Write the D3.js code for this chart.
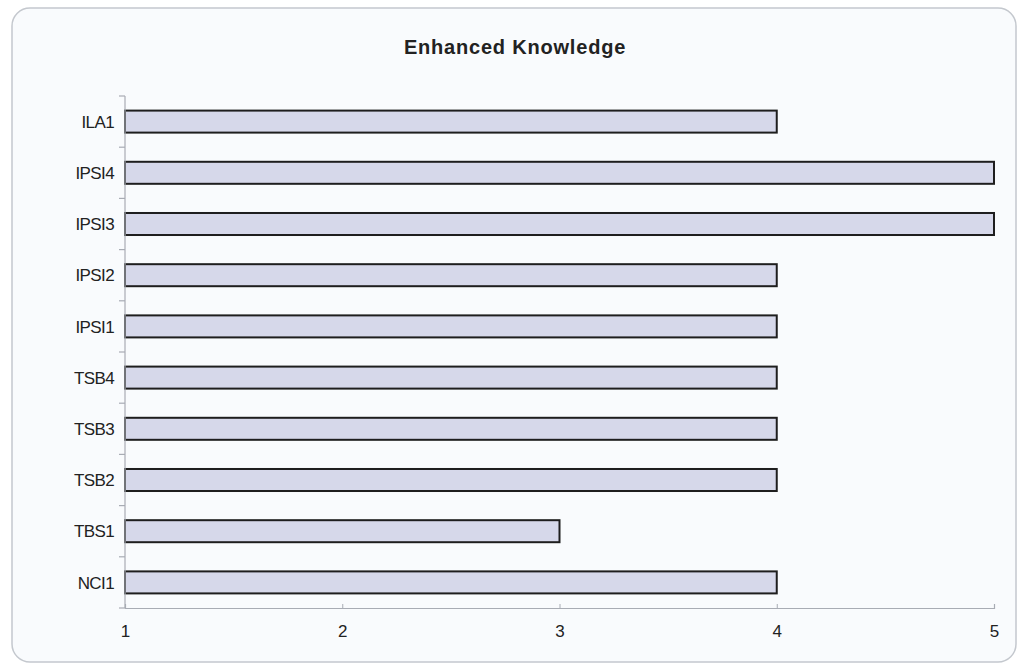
<!DOCTYPE html>
<html>
<head>
<meta charset="utf-8">
<script src="https://cdn.jsdelivr.net/npm/d3@7"></script>
<style>
  html, body { margin: 0; padding: 0; background: #ffffff; }
  svg { display: block; }
</style>
</head>
<body>
<svg id="chart" width="1024" height="672"></svg>
<script>
// Categories listed top to bottom, with their scores
const categories = ["ILA1", "IPSI4", "IPSI3", "IPSI2", "IPSI1", "TSB4", "TSB3", "TSB2", "TBS1", "NCI1"];
const scores = [4, 5, 5, 4, 4, 4, 4, 4, 3, 4];
const xTicks = [1, 2, 3, 4, 5];
const chartTitle = "Enhanced Knowledge";

const svg = d3.select("#chart");
const W = 1024, H = 672;
const margin = { left: 125, right: 30, top: 96, bottom: 64 };
const FONT = "'Liberation Sans', Arial, sans-serif";

// Outer frame with rounded corners
svg.append("rect")
  .attr("x", 12).attr("y", 8)
  .attr("width", W - 20).attr("height", H - 18)
  .attr("rx", 18).attr("ry", 18)
  .attr("fill", "#f9fbfd")
  .attr("stroke", "#c4c8ce")
  .attr("stroke-width", 1.5);

const x = d3.scaleLinear().domain([1, 5]).range([margin.left, W - margin.right]);
const y = d3.scaleBand().domain(categories).range([margin.top, H - margin.bottom]).paddingInner(0.57).paddingOuter(0.285);

// Title
svg.append("text")
  .attr("x", 515).attr("y", 54)
  .attr("text-anchor", "middle")
  .attr("font-family", FONT)
  .attr("font-weight", "bold")
  .attr("font-size", 20)
  .attr("letter-spacing", 0.8)
  .attr("fill", "#222")
  .text(chartTitle);

// Bars
svg.append("g").selectAll("rect")
  .data(categories.map((c, i) => ({ c, v: scores[i] })))
  .join("rect")
  .attr("x", x(1))
  .attr("y", d => y(d.c))
  .attr("width", d => x(d.v) - x(1))
  .attr("height", y.bandwidth())
  .attr("fill", "#d6d8ea")
  .attr("stroke", "#1e1e1e")
  .attr("stroke-width", 2);

// Y axis: line, ticks between categories, labels
const yAxisG = svg.append("g").attr("stroke", "#a8acb4").attr("stroke-width", 1.2);
yAxisG.append("line")
  .attr("x1", margin.left).attr("x2", margin.left)
  .attr("y1", margin.top).attr("y2", H - margin.bottom);
const boundaries = d3.range(categories.length + 1).map(i => margin.top + i * (H - margin.top - margin.bottom) / categories.length);
yAxisG.selectAll("line.tick")
  .data(boundaries)
  .join("line")
  .attr("class", "tick")
  .attr("x1", margin.left - 6).attr("x2", margin.left)
  .attr("y1", d => d).attr("y2", d => d);

svg.append("g").selectAll("text")
  .data(categories)
  .join("text")
  .attr("x", margin.left - 11)
  .attr("y", d => y(d) + y.bandwidth() / 2)
  .attr("dy", "0.36em")
  .attr("text-anchor", "end")
  .attr("font-family", FONT)
  .attr("font-size", 17)
  .attr("letter-spacing", -0.6)
  .attr("fill", "#222")
  .text(d => d);

// X axis
const xAxis = d3.axisBottom(x).tickValues(xTicks).tickSize(-4).tickPadding(17).tickFormat(d3.format("d"));
const xg = svg.append("g")
  .attr("transform", `translate(0,${H - margin.bottom})`)
  .call(xAxis);
xg.select(".domain").attr("stroke", "#a8acb4").attr("stroke-width", 1.2);
xg.selectAll(".tick line").attr("stroke", "#a8acb4");
xg.selectAll(".tick text")
  .attr("font-family", FONT)
  .attr("font-size", 17)
  .attr("fill", "#222");
</script>
</body>
</html>
